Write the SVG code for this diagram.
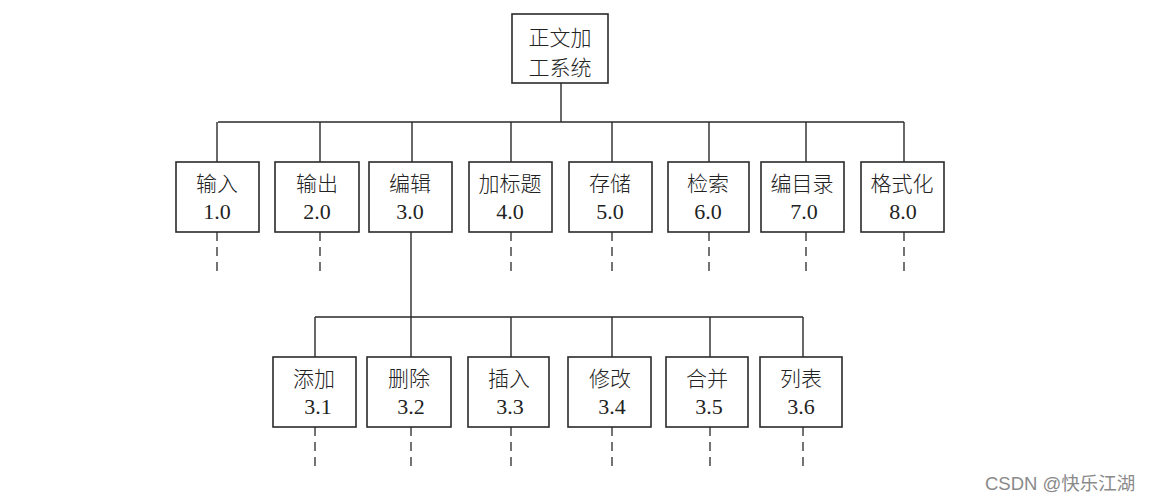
<svg xmlns="http://www.w3.org/2000/svg" width="1151" height="501" viewBox="0 0 1151 501">
<style>
.box{fill:#fff;stroke:#2a2a2a;stroke-width:1.6}
.ln{fill:none;stroke:#2a2a2a;stroke-width:1.4}
.ds{fill:none;stroke:#2a2a2a;stroke-width:1.3;stroke-dasharray:9 6}
.cn{font-family:"Noto Sans CJK SC",sans-serif;font-size:21px;font-weight:300;fill:#222;text-anchor:middle}
.nm{font-family:"Liberation Serif",serif;font-size:22px;fill:#222;text-anchor:middle}
.wm{font-family:"Liberation Sans","Noto Sans CJK SC",sans-serif;font-size:18.5px;fill:#8a8a8a}
</style>
<rect width="1151" height="501" fill="#fff"/>
<g id="connectors">
<path class="ln" d="M561 83V122M218 122H904M217 122V162M320 122V162M412 122V162M511 122V162M612 122V162M709 122V162M806 122V162M904 122V162"/>
<path class="ln" d="M411 232V317M315 317H803M315 317V357M411 317V357M511 317V357M612 317V357M710 317V357M803 317V357"/>
<path class="ds" d="M217 232V277M320 232V277M511 232V277M612 232V277M709 232V277M806 232V277M904 232V277"/>
<path class="ds" d="M315 427V472M411 427V472M511 427V472M612 427V472M710 427V472M803 427V472"/>
</g>
<g id="root"><rect class="box" x="512" y="14" width="96" height="69"/><text class="cn" x="560" y="45">正文加</text><text class="cn" x="560" y="75">工系统</text></g>
<g id="n1"><rect class="box" x="176" y="162" width="83" height="70"/><text class="cn" x="217" y="191">输入</text><text class="nm" x="217" y="219">1.0</text></g>
<g id="n2"><rect class="box" x="275" y="162" width="84" height="70"/><text class="cn" x="317" y="191">输出</text><text class="nm" x="317" y="219">2.0</text></g>
<g id="n3"><rect class="box" x="369" y="162" width="83" height="70"/><text class="cn" x="410" y="191">编辑</text><text class="nm" x="410" y="219">3.0</text></g>
<g id="n4"><rect class="box" x="469" y="162" width="83" height="70"/><text class="cn" x="510" y="191">加标题</text><text class="nm" x="510" y="219">4.0</text></g>
<g id="n5"><rect class="box" x="569" y="162" width="83" height="70"/><text class="cn" x="610" y="191">存储</text><text class="nm" x="610" y="219">5.0</text></g>
<g id="n6"><rect class="box" x="668" y="162" width="81" height="70"/><text class="cn" x="708" y="191">检索</text><text class="nm" x="708" y="219">6.0</text></g>
<g id="n7"><rect class="box" x="761" y="162" width="83" height="70"/><text class="cn" x="802" y="191">编目录</text><text class="nm" x="804" y="219">7.0</text></g>
<g id="n8"><rect class="box" x="861" y="162" width="83" height="70"/><text class="cn" x="902" y="191">格式化</text><text class="nm" x="903" y="219">8.0</text></g>
<g id="n31"><rect class="box" x="273" y="357" width="83" height="70"/><text class="cn" x="314" y="386">添加</text><text class="nm" x="318" y="414">3.1</text></g>
<g id="n32"><rect class="box" x="367" y="357" width="84" height="70"/><text class="cn" x="409" y="386">删除</text><text class="nm" x="411" y="414">3.2</text></g>
<g id="n33"><rect class="box" x="468" y="357" width="81" height="70"/><text class="cn" x="509" y="386">插入</text><text class="nm" x="510" y="414">3.3</text></g>
<g id="n34"><rect class="box" x="568" y="357" width="83" height="70"/><text class="cn" x="610" y="386">修改</text><text class="nm" x="612" y="414">3.4</text></g>
<g id="n35"><rect class="box" x="666" y="357" width="82" height="70"/><text class="cn" x="707" y="386">合并</text><text class="nm" x="709" y="414">3.5</text></g>
<g id="n36"><rect class="box" x="760" y="357" width="82" height="70"/><text class="cn" x="801" y="386">列表</text><text class="nm" x="801" y="414">3.6</text></g>
<text class="wm" x="985" y="490">CSDN @快乐江湖</text>
</svg>
